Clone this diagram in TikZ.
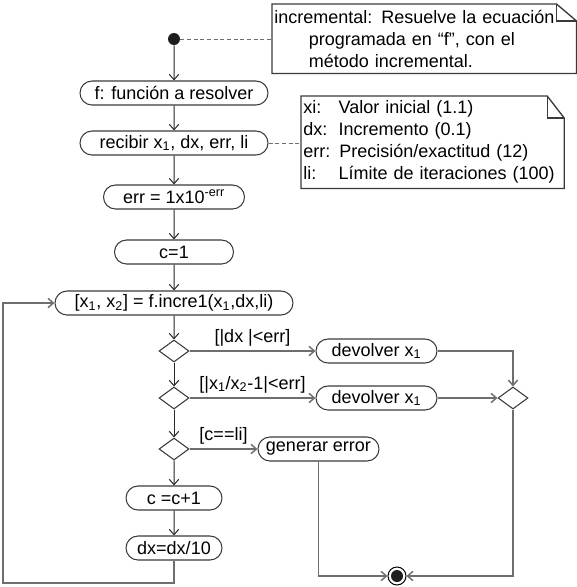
\documentclass[tikz,border=0pt]{standalone}
\usepackage{fontspec}
\setmainfont{Liberation Sans}
\usetikzlibrary{shapes.misc,shapes.geometric,arrows.meta}

\definecolor{linea}{HTML}{6E6E6E}
\definecolor{borde}{HTML}{3A3A3A}
\definecolor{punto}{HTML}{1E1E1E}

\begin{document}
\begin{tikzpicture}[x=0.75pt,y=-0.75pt,
    every node/.style={font=\fontsize{13.5pt}{16.5pt}\selectfont},
    accion/.style={rounded rectangle, draw=borde, line width=0.8pt, minimum height=18pt, inner sep=0pt},
    decision/.style={diamond, draw=borde, line width=0.8pt, minimum width=22.5pt, minimum height=16.5pt, inner sep=0pt},
    flujo/.style={draw=black!85, line width=0.75pt, -{Straight Barb[length=4pt,width=7pt]}},
    rama/.style={draw=linea, line width=1.1pt, -{Straight Barb[length=4pt,width=7pt]}},
    nota/.style={anchor=north west, align=left, inner xsep=1.5pt, inner ysep=0pt},
    enlace/.style={draw=linea, line width=0.75pt, dash pattern=on 3pt off 2pt}]

    % Fix the frame of the picture
    \useasboundingbox (0,0) rectangle (577,587);

    % Start and end points
    \node[circle, fill=punto, minimum size=9pt, inner sep=0pt] (inicio) at (174,39) {};
    \node[circle, draw=black, fill=white, line width=0.75pt, minimum size=13.5pt, inner sep=0pt] (fin) at (397,576) {};
    \fill[punto] (fin.center) circle (4.5pt);

    % Notes
    \node[nota, text width=225pt, minimum height=51.75pt] (nota1) at (272,4)
        {incremental: Resuelve la ecuación\\\hspace*{26pt}programada en “f”, con el\\\hspace*{26pt}método incremental.};
    \draw[borde, line width=1pt] (nota1.south west) -- (nota1.north west) -- ([xshift=-15pt]nota1.north east)
        -- ([yshift=-12.75pt]nota1.north east) -- (nota1.south east) -- cycle;
    \draw[borde, line width=1pt] ([xshift=-15pt]nota1.north east) |- ([yshift=-12.75pt]nota1.north east);

    \node[nota, text width=194pt, minimum height=69pt] (nota2) at (301,96)
        {\makebox[26.5pt][l]{xi:}Valor inicial (1.1)\\
         \makebox[26.5pt][l]{dx:}Incremento (0.1)\\
         err: Precisión/exactitud (12)\\
         \makebox[26.5pt][l]{li:}Límite de iteraciones (100)};
    \draw[borde, line width=1pt] (nota2.south west) -- (nota2.north west) -- ([xshift=-12.75pt]nota2.north east)
        -- ([yshift=-16.5pt]nota2.north east) -- (nota2.south east) -- cycle;
    \draw[borde, line width=1pt] ([xshift=-12.75pt]nota2.north east) |- ([yshift=-16.5pt]nota2.north east);

    % Main column of actions
    \node[accion, minimum width=141pt] (funcion) at (174,93) {f: función a resolver};
    \node[accion, minimum width=141pt] (recibir) at (174,143) {recibir x\textsubscript{1}, dx, err, li};
    \node[accion, minimum width=105.75pt] (error) at (174,197) {err = 1x10\textsuperscript{-err}};
    \node[accion, minimum width=89.25pt] (contador) at (174,252) {c=1};
    \node[accion, minimum width=178.5pt] (incre) at (174,303)
        {[x\textsubscript{1}, x\textsubscript{2}] = f.incre1(x\textsubscript{1},dx,li)};
    \node[decision] (dec1) at (174,351) {};
    \node[decision] (dec2) at (174,398) {};
    \node[decision] (dec3) at (174,449) {};
    \node[accion, minimum width=72pt] (suma) at (174,498) {c =c+1};
    \node[accion, minimum width=72pt] (divide) at (174,548) {dx=dx/10};

    % Branch actions
    \node[accion, minimum width=90.75pt] (devolver1) at (376.5,351) {devolver x\textsubscript{1}};
    \node[accion, minimum width=90.75pt] (devolver2) at (376.5,398) {devolver x\textsubscript{1}};
    \node[accion, minimum width=90.75pt] (generar) at (318.5,449) {generar error};
    \node[decision] (union) at (513,398) {};
    \coordinate (esquina) at (3,583);

    % Flow
    \draw[flujo] (inicio) -- (funcion);
    \draw[flujo] (funcion) -- (recibir);
    \draw[flujo] (recibir) -- (error);
    \draw[flujo] (error) -- (contador);
    \draw[flujo] (contador) -- (incre);
    \draw[flujo] (incre) -- (dec1);
    \draw[flujo] (dec1) -- (dec2);
    \draw[flujo] (dec2) -- (dec3);
    \draw[flujo] (dec3) -- (suma);
    \draw[flujo] (suma) -- (divide);
    \draw[rama] (divide.south) |- (esquina) |- (incre.west);

    % Guards and exits
    \draw[rama] (dec1.east) -- node[above] {[|dx |<err]} (devolver1.west);
    \draw[rama] (dec2.east) -- node[above] {[|x\textsubscript{1}/x\textsubscript{2}-1|<err]} (devolver2.west);
    \draw[rama] (dec3.east) -- node[above] {[c==li]} (generar.west);
    \draw[rama] (devolver1.east) -| (union.north);
    \draw[rama] (devolver2.east) -- (union.west);
    \draw[rama] (union.south) |- (fin.east);
    \draw[rama] (generar.south) |- (fin.west);

    % Links to the notes
    \draw[enlace] (inicio) -- (nota1.west |- inicio);
    \draw[enlace] (recibir.east) -- (recibir.east -| nota2.west);

\end{tikzpicture}
\end{document}
